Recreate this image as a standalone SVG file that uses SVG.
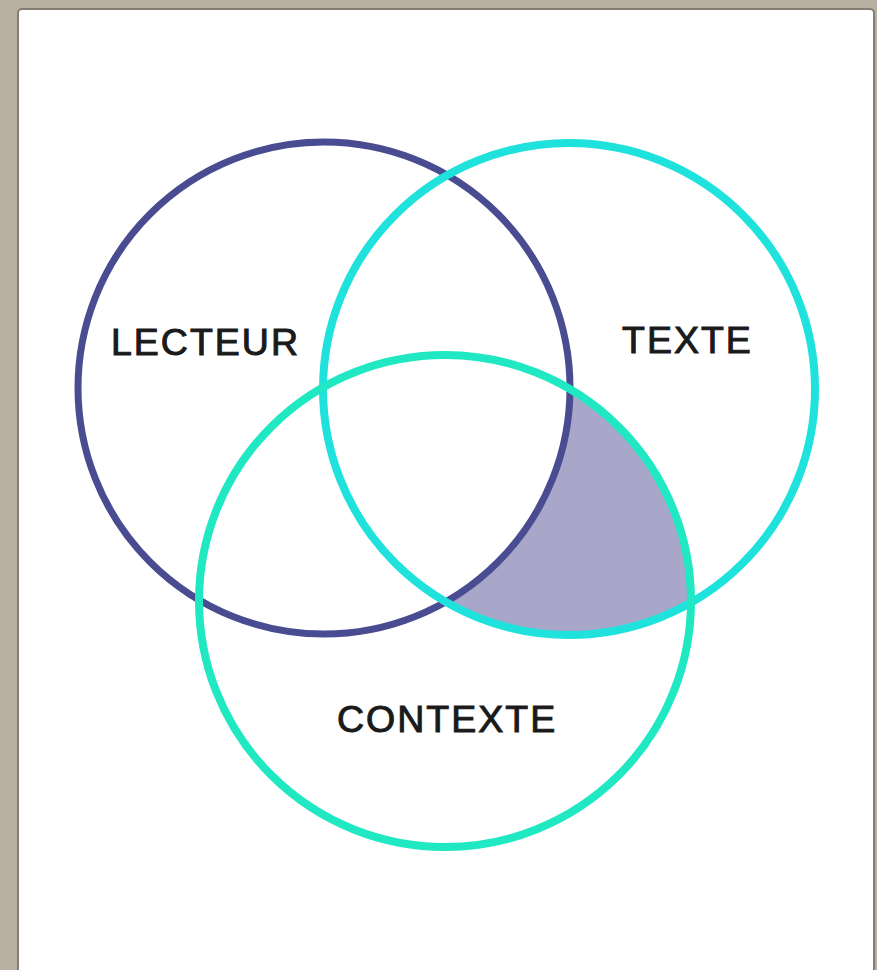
<svg xmlns="http://www.w3.org/2000/svg" width="877" height="970" viewBox="0 0 877 970">
  <style>
    .ring { fill: none; }
    .label { font-family: "Liberation Sans", Arial, sans-serif; font-size: 37.5px; fill: #1a1a1a; letter-spacing: 2px; stroke: #1a1a1a; stroke-width: 1px; }
  </style>
  <defs>
    <clipPath id="clipTexte">
      <circle cx="569" cy="389" r="246"/>
    </clipPath>
    <mask id="noLecteur" maskUnits="userSpaceOnUse" x="0" y="0" width="877" height="970">
      <rect x="0" y="0" width="877" height="970" fill="#fff"/>
      <circle cx="324" cy="388" r="246" fill="#000"/>
    </mask>
  </defs>
  <rect x="0" y="0" width="877" height="970" fill="#b8afa3"/>
  <rect x="18" y="9" width="856" height="970" rx="4" fill="#ffffff" stroke="#857d72" stroke-width="2"/>

  <g id="shaded">
    <g mask="url(#noLecteur)">
      <circle cx="445" cy="601" r="246" fill="#a8a7c9" clip-path="url(#clipTexte)"/>
    </g>
  </g>

  <g id="lecteur">
    <circle class="ring" cx="324" cy="388" r="246" stroke="#4a4c92" stroke-width="7"/>
    <text class="label" x="111" y="355">LECTEUR</text>
  </g>
  <g id="texte">
    <circle class="ring" cx="569" cy="389" r="246" stroke="#1fe2dc" stroke-width="8"/>
    <text class="label" x="622" y="353">TEXTE</text>
  </g>
  <g id="contexte">
    <circle class="ring" cx="445" cy="601" r="246" stroke="#1fe8c3" stroke-width="8"/>
    <text class="label" x="337" y="732">CONTEXTE</text>
  </g>
  <g id="connectors"/>
</svg>
